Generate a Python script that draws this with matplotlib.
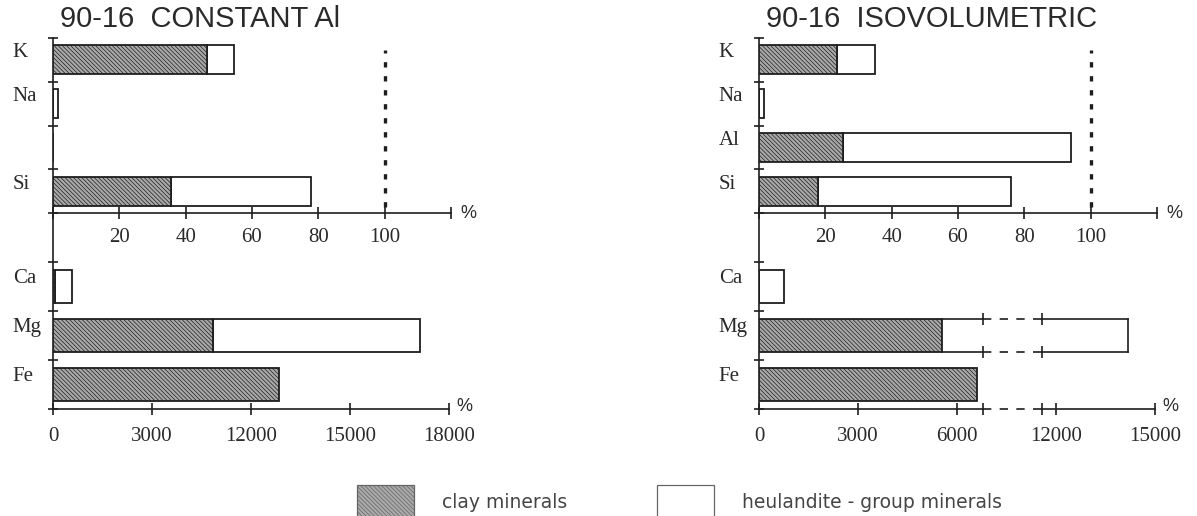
import numpy as np
import matplotlib
matplotlib.use('Agg')
import matplotlib.pyplot as plt
from matplotlib.patches import Rectangle

W, H, DPI = 1197, 516, 100

# upper block: % change of the major elements
upper_left_names = ['K', 'Na', '', 'Si']          # Al held constant
upper_left_clay = [46.4, 0.0, 0.0, 35.7]
upper_left_total = [54.7, 1.5, 0.0, 77.9]

upper_right_names = ['K', 'Na', 'Al', 'Si']
upper_right_clay = [23.4, 0.0, 25.4, 17.8]
upper_right_total = [35.1, 1.5, 94.0, 76.0]

upper_ticks = [0, 20, 40, 60, 80, 100, 120]
upper_ticklabels = ['', '20', '40', '60', '80', '100', '']

# lower block: Ca, Mg, Fe (very large gains)
lower_names = ['Ca', 'Mg', 'Fe']
lower_left_clay = [60, 8540, 12850]
lower_left_total = [580, 17120, 12850]
lower_right_clay = [0, 5550, 6610]
lower_right_total = [760, 14180, 6610]

lower_left_ticks = [0, 3000, 12000, 15000, 18000]
lower_right_ticks = [0, 3000, 6000, 12000, 15000]

# compressed stretches of the lower x axis: (values, position on axis)
left_break = ([0, 3000, 12000], [0, 3000, 6000])
right_break = ([0, 6800, 11580], [0, 6800, 8580])
right_gap = (6800, 11580)

legend_labels = ['clay minerals', 'heulandite - group minerals']

CLAY = '#a9a9a9'
EDGE = '#1e1e1e'
HATCH = '\\\\\\\\\\\\\\\\'
TICKFONT = dict(family='Liberation Serif', size=15)
TEXTC = '#2a2a2a'

plt.rcParams['hatch.linewidth'] = 0.5
fig = plt.figure(figsize=(W / DPI, H / DPI), dpi=DPI)


def px_axes(left, top, width, height):
    ax = fig.add_axes([left / W, 1 - (top + height) / H, width / W, height / H])
    ax.patch.set_visible(False)
    return ax


def broken_scale(brk):
    real, pos = brk
    off = real[-1] - pos[-1]
    r = np.r_[-1e7, real, 1e7]
    d = np.r_[-1e7, pos, 1e7 - off]
    return (lambda v: np.interp(v, r, d)), (lambda v: np.interp(v, d, r))


def style_axes(ax, names, ypos):
    for s in ['top', 'right']:
        ax.spines[s].set_visible(False)
    for s in ['left', 'bottom']:
        ax.spines[s].set_linewidth(1.2)
        ax.spines[s].set_color(EDGE)
    ax.set_yticks(np.array(ypos) + 0.22)
    ax.set_yticklabels(names, **TICKFONT, color=TEXTC)
    ax.tick_params(axis='y', which='major', length=0, pad=29)
    for lab in ax.get_yticklabels():
        lab.set_horizontalalignment('left')
    ax.set_yticks(np.arange(-0.5, 4.0, 1.0), minor=True)
    ax.tick_params(axis='y', which='minor', length=7, width=1.2,
                   direction='inout', color=EDGE)
    ax.tick_params(axis='x', which='both', length=8, width=1.2,
                   direction='inout', color=EDGE)


def draw_bars(ax, ypos, clay, total, gap=None):
    clay = np.array(clay, float)
    total = np.array(total, float)
    ax.barh(ypos, clay, height=0.66, color=CLAY, edgecolor=EDGE,
            hatch=HATCH, lw=1.3, zorder=3)
    for y, c, t in zip(ypos, clay, total):
        if t <= c:
            continue
        if gap is None or t < gap[1]:
            ax.barh(y, t - c, left=c, height=0.66, color='white',
                    edgecolor=EDGE, lw=1.3, zorder=2)
            continue
        # bar running through the axis break
        ax.barh(y, t - c, left=c, height=0.66, color='white',
                edgecolor='none', zorder=2)
        for yy in (y - 0.33, y + 0.33):
            ax.plot([c, gap[0]], [yy, yy], color=EDGE, lw=1.2, zorder=3)
            ax.plot([gap[0], gap[1]], [yy, yy], color=EDGE, lw=1.2,
                    ls=(0, (5, 5)), zorder=3)
            ax.plot([gap[1], t], [yy, yy], color=EDGE, lw=1.2, zorder=3)
            ax.plot(gap, [yy, yy], ls='none', marker='|', ms=8, mew=1.2,
                    color=EDGE, zorder=3)
        ax.plot([t, t], [y - 0.33, y + 0.33], color=EDGE, lw=1.2, zorder=3)


def draw_panel(x0, title, up_names, up_clay, up_total,
               lo_clay, lo_total, lo_ticks, brk, gap=None):
    fig.text((x0 + 7) / W, 1 - 19 / H, title, ha='left', va='center',
             fontsize=21, family='Liberation Sans', color=TEXTC)

    # lower block first so the upper tick labels sit on top of it
    ax = px_axes(x0, 213, 396, 196)
    fwd, inv = broken_scale(brk)
    ax.set_xscale('function', functions=(fwd, inv))
    ypos = np.arange(len(lower_names))[::-1]
    draw_bars(ax, ypos, lo_clay, lo_total, gap)
    ax.set_xlim(0, lo_ticks[-1])
    ax.set_ylim(-0.5, 3.5)
    style_axes(ax, lower_names, ypos)
    ax.set_yticks(np.arange(-0.5, 3.0, 1.0), minor=True)
    ax.set_xticks(lo_ticks)
    ax.set_xticklabels([str(t) for t in lo_ticks], **TICKFONT, color=TEXTC)
    ax.tick_params(axis='x', pad=9)
    if gap is not None:
        ax.spines['bottom'].set_visible(False)
        ax.set_xticks(list(gap), minor=True)
        kw = dict(color=EDGE, lw=1.2, clip_on=False, zorder=4)
        ax.plot([0, gap[0]], [-0.5, -0.5], **kw)
        ax.plot(list(gap), [-0.5, -0.5], ls=(0, (5, 5)), **kw)
        ax.plot([gap[1], lo_ticks[-1]], [-0.5, -0.5], **kw)
    ax.annotate('%', xy=(1, 0), xycoords='axes fraction', xytext=(5, 2),
                textcoords='offset points', ha='left', va='center',
                fontsize=13, family='Liberation Sans', color=TEXTC)

    # upper block
    ax = px_axes(x0, 38, 398, 175)
    ypos = np.arange(len(up_names))[::-1]
    draw_bars(ax, ypos, up_clay, up_total)
    ax.set_xlim(0, 120)
    ax.set_ylim(-0.5, 3.5)
    style_axes(ax, up_names, ypos)
    ax.set_xticks(upper_ticks)
    ax.set_xticklabels(upper_ticklabels, **TICKFONT, color=TEXTC)
    ax.tick_params(axis='x', pad=7)
    ax.axvline(100, ymin=0.035, ymax=0.93, color=EDGE, lw=2.4,
               ls=(0, (1.6, 2.6)))
    ax.annotate('%', xy=(1, 0), xycoords='axes fraction', xytext=(7, 0),
                textcoords='offset points', ha='left', va='center',
                fontsize=13, family='Liberation Sans', color=TEXTC)


draw_panel(53, '90-16  CONSTANT Al', upper_left_names, upper_left_clay,
           upper_left_total, lower_left_clay, lower_left_total,
           lower_left_ticks, left_break)
draw_panel(759, '90-16  ISOVOLUMETRIC', upper_right_names, upper_right_clay,
           upper_right_total, lower_right_clay, lower_right_total,
           lower_right_ticks, right_break, right_gap)

# key at the foot of the figure (boxes run off the bottom edge)
key_styles = [dict(facecolor=CLAY, hatch=HATCH), dict(facecolor='white')]
for i, (label, st) in enumerate(zip(legend_labels, key_styles)):
    x = 357 + i * 300
    fig.add_artist(Rectangle((x / W, 1 - 520 / H), 57 / W, 35 / H,
                             transform=fig.transFigure, edgecolor='#666',
                             lw=0.9, **st))
    fig.text((x + 85) / W, 1 - 502 / H, label, ha='left', va='center',
             family='DejaVu Sans', fontsize=13.5, color='#454545')

fig.savefig('out.png', dpi=DPI)
